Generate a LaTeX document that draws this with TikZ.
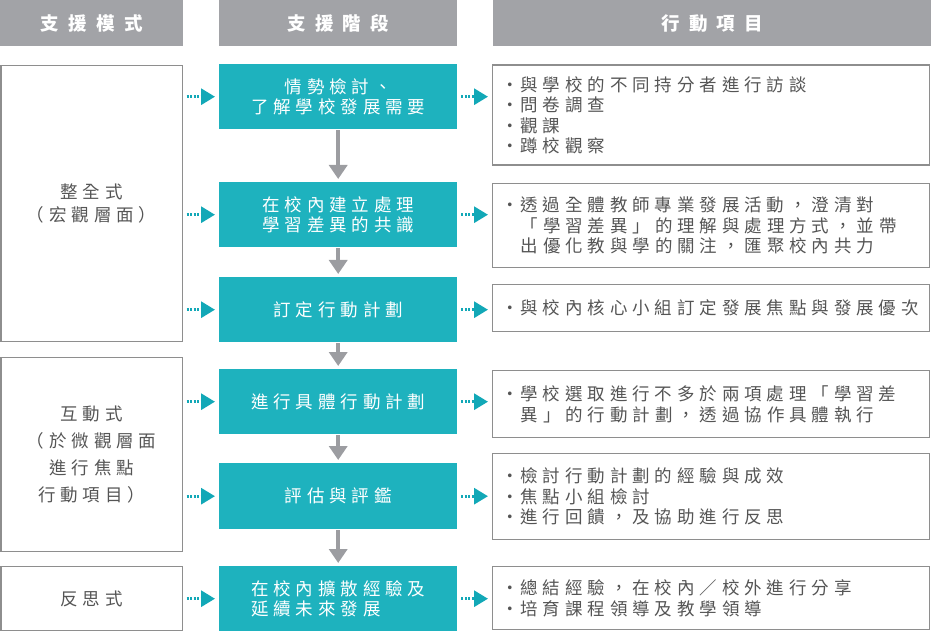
\documentclass[tikz,border=0pt]{standalone}
\usepackage{fontspec}
\usetikzlibrary{arrows.meta}
\newfontfamily\cjk[LetterSpace=28]{Noto Sans CJK TC}
\newfontfamily\cjkhead[LetterSpace=50]{Noto Sans CJK TC}
\definecolor{tealbox}{HTML}{1EB2BE}
\definecolor{tealarrow}{HTML}{12A8B7}
\definecolor{headgray}{HTML}{A2A3A7}
\definecolor{linegray}{HTML}{8E8E8E}
\definecolor{txtgray}{HTML}{555555}
\definecolor{flowgray}{HTML}{9C9DA1}
\newcommand\dotitem{\makebox[16pt][l]{\hspace*{-3pt}·}}
\newcommand\indentitem{\hspace*{16pt}}

\begin{document}
\begin{tikzpicture}[x=1pt,y=-1pt,
  head/.style={fill=headgray,text=white,anchor=north west,minimum height=46pt,font=\cjkhead\bfseries\fontsize{18.5}{20}\selectfont},
  mode/.style={draw=linegray,line width=1.2pt,anchor=north west,minimum width=181pt,text=txtgray,align=center,font=\cjk\fontsize{17.5}{23}\selectfont},
  stage/.style={fill=tealbox,text=white,anchor=north west,minimum width=238pt,minimum height=65pt,align=center,font=\cjk\fontsize{17.5}{20}\selectfont},
  action/.style={draw=linegray,line width=1.2pt,anchor=north west,text width=413pt,inner xsep=12pt,text=txtgray,align=left,font=\cjk\fontsize{17.5}{20.5}\selectfont},
  flow/.style={-{Triangle[length=14pt,width=18pt]},line width=4.5pt,draw=flowgray,shorten <=1pt,shorten >=3pt},
  link/.style={-{Triangle[length=14pt,width=16pt]},line width=3pt,draw=tealarrow,dash pattern=on 2pt off 1.5pt,shorten <=4pt,shorten >=4pt}]
\useasboundingbox (0,0) rectangle (932,631);

\node[head,minimum width=183pt] (hmode) at (0,0) {支援模式};
\node[head,minimum width=238pt] (hstage) at (219,0) {支援階段};
\node[head,minimum width=438pt] (haction) at (493,0) {行動項目};

\node[mode,minimum height=276pt] (whole) at (0.5,65) {整全式\\（宏觀層面）};
\node[mode,minimum height=194pt,font=\cjk\fontsize{17.5}{27}\selectfont] (inter) at (0.5,357) {互動式\\（於微觀層面\\進行焦點\\行動項目）};
\node[mode,minimum height=64pt] (reflect) at (0.5,566) {反思式};

\node[stage] (s1) at (219,64) {情勢檢討、\\了解學校發展需要};
\node[stage] (s2) at (219,182) {在校內建立處理\\學習差異的共識};
\node[stage] (s3) at (219,277) {訂定行動計劃};
\node[stage] (s4) at (219,369) {進行具體行動計劃};
\node[stage,minimum height=66pt] (s5) at (219,463) {評估與評鑑};
\node[stage,align=left] (s6) at (219,566) {在校內擴散經驗及\\延續未來發展};

\node[action,minimum height=100pt] (a1) at (492,64.5) {\dotitem 與學校的不同持分者進行訪談\\\dotitem 問卷調查\\\dotitem 觀課\\\dotitem 蹲校觀察};
\node[action,minimum height=84pt] (a2) at (492,183) {\dotitem 透過全體教師專業發展活動，澄清對\\\indentitem「學習差異」的理解與處理方式，並帶\\\indentitem 出優化教與學的關注，匯聚校內共力};
\node[action,minimum height=47pt] (a3) at (492,284) {\dotitem 與校內核心小組訂定發展焦點與發展優次};
\node[action,minimum height=67pt] (a4) at (492,370) {\dotitem 學校選取進行不多於兩項處理「學習差\\\indentitem 異」的行動計劃，透過協作具體執行};
\node[action,minimum height=86pt] (a5) at (492,453) {\dotitem 檢討行動計劃的經驗與成效\\\dotitem 焦點小組檢討\\\dotitem 進行回饋，及協助進行反思};
\node[action,minimum height=63pt] (a6) at (492,566) {\dotitem 總結經驗，在校內／校外進行分享\\\dotitem 培育課程領導及教學領導};

\foreach \a/\b in {s1/s2,s2/s3,s3/s4,s4/s5,s5/s6}
  \draw[flow] (\a.south) -- (\b.north);

\foreach \m/\s in {whole/s1,whole/s2,whole/s3,inter/s4,inter/s5,reflect/s6}
  \draw[link] (\m.east |- \s.west) -- (\s.west);
\foreach \s/\a in {s1/a1,s2/a2,s3/a3,s4/a4,s5/a5,s6/a6}
  \draw[link] (\s.east) -- (\s.east -| \a.west);
\end{tikzpicture}
\end{document}
